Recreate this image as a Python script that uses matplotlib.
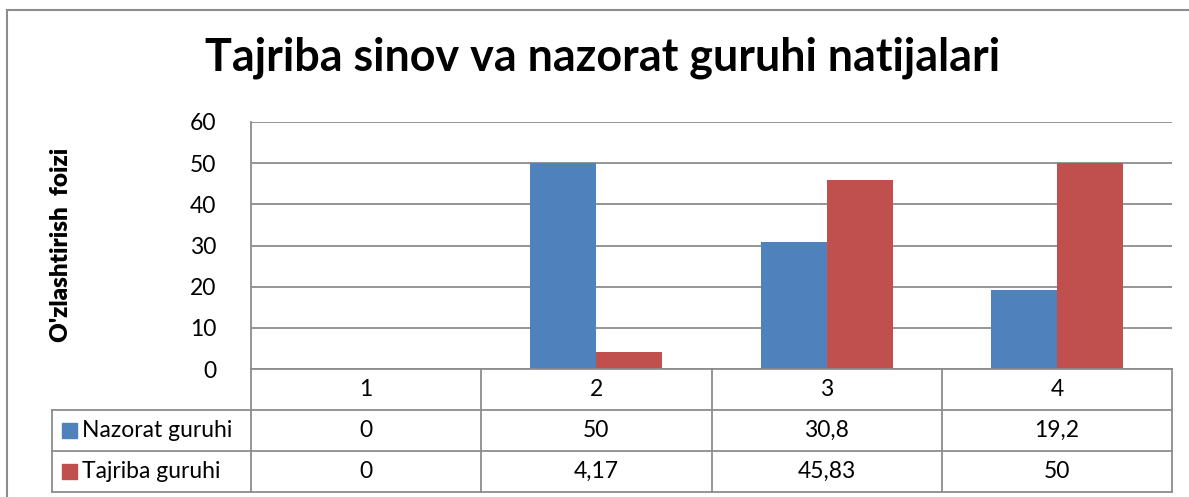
import matplotlib
matplotlib.use("Agg")
import matplotlib.pyplot as plt
from matplotlib.patches import Rectangle
import numpy as np

categories = ["1", "2", "3", "4"]
series_names = ["Nazorat guruhi", "Tajriba guruhi"]
nazorat = [0, 50, 30.8, 19.2]
tajriba = [0, 4.17, 45.83, 50]
nazorat_labels = ["0", "50", "30,8", "19,2"]
tajriba_labels = ["0", "4,17", "45,83", "50"]
title = "Tajriba sinov va nazorat guruhi natijalari"
ylabel = "O'zlashtirish  foizi"
yticks = [0, 10, 20, 30, 40, 50, 60]

colors = ["#4F81BD", "#C0504D"]
grid_c = "#8C8C8C"
FONT = "Lato"
FS = 16.5

W, H = 1189, 497
fig = plt.figure(figsize=(W / 100, H / 100), dpi=100)

def fx(px):
    return px / W

def fy(py):
    return 1 - py / H

# outer chart border (cut off at right and bottom)
fig.add_artist(plt.Line2D([fx(7), fx(7)], [fy(10), 0], color="#8C8C8C", lw=1.5))
fig.add_artist(plt.Line2D([fx(7), 1], [fy(10), fy(10)], color="#8C8C8C", lw=1.5))

left, right, top, bottom = 251, 1172, 122, 369
ax = fig.add_axes([fx(left), fy(bottom), fx(right - left), (bottom - top) / H])
x = np.arange(1, len(categories) + 1)
bw = 66 / 230
ax.bar(x - bw / 2, nazorat, width=bw, color=colors[0], zorder=3)
ax.bar(x + bw / 2, tajriba, width=bw, color=colors[1], zorder=3)
ax.set_xlim(0.5, len(categories) + 0.5)
ax.set_ylim(0, 60)
ax.set_yticks(yticks)
ax.set_yticklabels([str(t) for t in yticks], fontsize=FS, family=FONT)
ax.tick_params(axis="y", length=0, pad=25)
ax.set_xticks([])
for s in ["top", "right", "bottom"]:
    ax.spines[s].set_visible(False)
ax.spines["left"].set_color(grid_c)
ax.spines["left"].set_linewidth(1.3)
ax.yaxis.grid(True, color=grid_c, lw=1.3, zorder=0)
ax.set_axisbelow(True)

# title and y label
fig.text(fx(603), fy(58), title, ha="center", va="center", fontsize=32.3,
         fontweight="bold", family=FONT)
fig.text(fx(61), fy(245), ylabel, ha="center", va="center", rotation=90,
         fontsize=17.5, fontweight="heavy", family=FONT)

# data table
tb_top, tb_bottom = 369, 492
tax = fig.add_axes([0, fy(tb_bottom), 1, (tb_bottom - tb_top) / H])
tax.set_xlim(0, W)
tax.set_ylim(tb_bottom, tb_top)
tax.axis("off")
col_edges = [left + i * (right - left) / len(categories) for i in range(len(categories) + 1)]
row_edges = [369, 410, 451, 492]
lkw = dict(color=grid_c, lw=1.3, clip_on=False)
tax.plot([left, right], [row_edges[0]] * 2, **lkw)
for r in row_edges[1:]:
    tax.plot([52, right], [r, r], **lkw)
for c in col_edges:
    tax.plot([c, c], [row_edges[0], row_edges[-1]], **lkw)
tax.plot([52, 52], [row_edges[1], row_edges[-1]], **lkw)

rows = [categories, nazorat_labels, tajriba_labels]
for ri, row in enumerate(rows):
    yc = (row_edges[ri] + row_edges[ri + 1]) / 2
    for ci, val in enumerate(row):
        xc = (col_edges[ci] + col_edges[ci + 1]) / 2
        tax.text(xc, yc, val, ha="center", va="center", fontsize=FS, family=FONT)

for si, name in enumerate(series_names):
    yc = (row_edges[si + 1] + row_edges[si + 2]) / 2
    tax.add_patch(Rectangle((62, yc - 7.5), 15, 15, color=colors[si], clip_on=False))
    tax.text(82, yc, name, ha="left", va="center", fontsize=FS, family=FONT)

fig.savefig("out.png", dpi=100)
